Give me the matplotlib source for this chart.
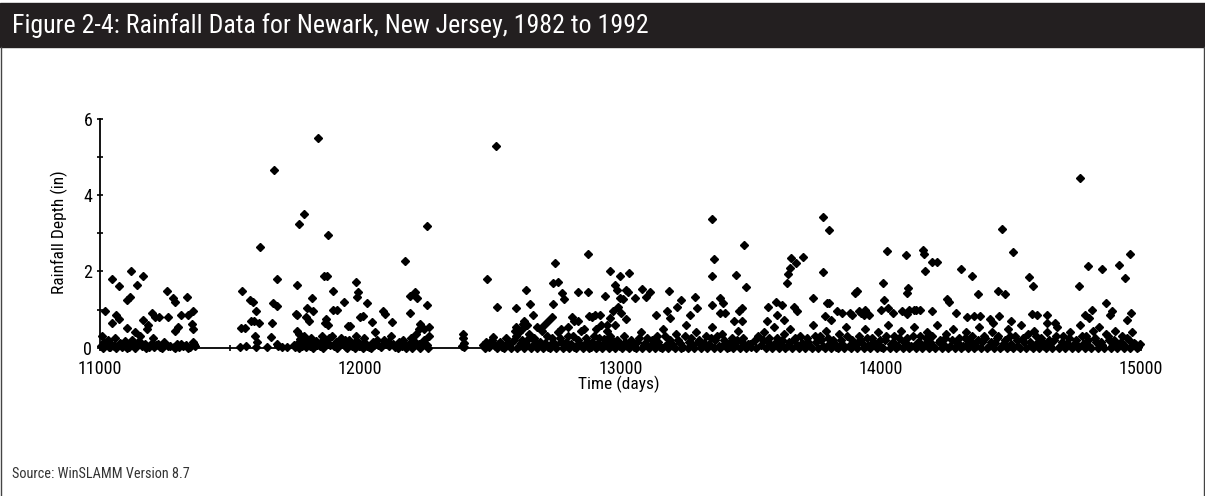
#!/usr/bin/env python3
"""
Figure 2-4 -- Rainfall data for Newark, New Jersey, 1982 to 1992.

Scatter of daily rainfall depth (in) against time (days), as exported
from WinSLAMM. Values below were read off the published figure.
"""

import matplotlib
matplotlib.use("Agg")
import matplotlib.pyplot as plt
from matplotlib import font_manager
from matplotlib.lines import Line2D
from matplotlib.patches import Rectangle
from matplotlib.ticker import MultipleLocator

# --- larger storms, (day, depth in) ---
storms_a = [
    (11019, 0.97), (11045, 1.80), (11074, 1.63), (11045, 0.66), (11060, 0.85),
    (11074, 0.75), (11102, 0.52), (11118, 2.02), (11104, 1.25), (11115, 1.34),
    (11141, 1.65), (11166, 1.89), (11135, 0.40), (11166, 0.73), (11180, 0.50),
    (11185, 0.60), (11198, 0.90), (11210, 0.80), (11225, 0.80), (11205, 0.25),
    (11256, 1.50), (11262, 0.80), (11279, 1.30), (11288, 1.21), (11290, 0.45),
    (11300, 0.55), (11310, 0.85), (11333, 1.34), (11340, 0.85), (11358, 0.95),
    (11352, 0.62), (11358, 0.48),
]
storms_b = [
    (11538, 0.03), (11542, 0.51), (11557, 0.51), (11545, 1.50), (11576, 1.25),
    (11589, 1.21), (11580, 0.70), (11590, 0.70), (11598, 0.95), (11595, 0.30),
    (11598, 0.02), (11615, 2.65), (11612, 0.65), (11657, 0.29), (11660, 0.65),
    (11666, 1.17), (11670, 4.66), (11679, 1.80), (11681, 1.10), (11681, 0.10),
    (11750, 0.02), (11756, 1.65), (11766, 3.24), (11782, 3.50), (11756, 0.85),
    (11756, 0.45), (11766, 0.35), (11790, 0.80), (11794, 1.03), (11813, 1.30),
    (11803, 0.70), (11820, 0.95), (11839, 5.51), (11861, 1.89), (11874, 1.89),
    (11877, 2.96), (11897, 1.48), (11897, 1.00), (11910, 0.98), (11870, 0.75),
    (11865, 0.64), (11877, 0.60), (11753, 0.88),
]
storms_c = [
    (11938, 1.21), (11952, 0.56), (11960, 0.56), (11984, 1.73), (11993, 1.47),
    (11989, 1.34), (11999, 0.81), (12012, 0.83), (12027, 1.17), (12044, 0.67),
    (12088, 0.95), (12095, 0.88), (12121, 0.68), (12172, 2.28), (12191, 1.36),
    (12210, 1.47), (12217, 1.30), (12191, 0.90), (12258, 3.19), (12258, 1.12),
    (12230, 0.63), (12225, 0.50), (12245, 0.50), (12265, 0.55),
    (12396, 0.37), (12396, 0.25), (12398, 0.12), (12400, 0.03), (12392, 0.05),
]
storms_d = [
    (12486, 1.80), (12520, 5.29), (12524, 1.08), (12511, 0.29), (12597, 1.03),
    (12637, 1.51), (12652, 1.14), (12665, 0.86), (12630, 0.70), (12625, 0.62),
    (12640, 0.60), (12600, 0.55), (12595, 0.45), (12610, 0.40), (12749, 2.23),
    (12742, 1.71), (12759, 1.73), (12775, 1.44), (12781, 1.27), (12742, 1.14),
    (12735, 0.80), (12721, 0.70), (12707, 0.60), (12874, 2.46), (12838, 1.47),
    (12874, 1.47), (12815, 0.80), (12820, 0.70), (12835, 0.70), (12880, 0.83),
    (12890, 0.81), (12942, 1.36), (12958, 2.01), (12998, 1.89), (12979, 1.65),
    (12985, 1.51), (12992, 1.08), (12997, 1.30), (12970, 0.95), (12960, 0.78),
    (12980, 0.60), (12902, 0.86), (12922, 0.86), (12950, 0.60), (12950, 0.45),
    (12620, 0.50), (12680, 0.55), (12770, 0.50), (12800, 0.55), (12860, 0.50),
    (12905, 0.50), (12925, 0.60),
]
storms_e = [
    (13033, 1.96), (13011, 1.28), (13028, 1.47), (13021, 1.51), (13003, 0.90),
    (13020, 0.75), (13056, 1.31), (13082, 1.54), (13098, 1.34), (13114, 1.47),
    (13188, 1.50), (13137, 0.86), (13178, 0.95), (13191, 0.77), (13216, 1.08),
    (13233, 1.25), (13287, 1.34), (13293, 1.03), (13267, 0.86), (13352, 3.37),
    (13361, 2.32), (13352, 1.88), (13352, 1.12), (13383, 1.30), (13395, 1.17),
    (13383, 0.90), (13403, 0.90), (13444, 1.91), (13476, 2.70), (13482, 1.60),
    (13466, 1.03), (13457, 0.95), (13466, 0.70), (13436, 0.70), (13568, 1.08),
    (13598, 1.21), (13620, 1.12), (13603, 0.85), (13628, 0.72), (13562, 0.70),
    (13639, 1.71), (13645, 1.93), (13651, 2.08), (13654, 2.35), (13675, 2.21),
    (13700, 2.37), (13667, 1.08), (13680, 0.95),
]
storms_f = [
    (13777, 3.42), (13803, 3.09), (13777, 1.98), (13738, 1.31), (13792, 1.18),
    (13802, 1.18), (13830, 0.95), (13902, 1.44), (13910, 1.50), (13882, 0.90),
    (13787, 0.83), (13810, 0.72), (13850, 0.92), (13890, 0.87), (14007, 1.71),
    (14023, 2.55), (14097, 2.43), (14106, 1.57), (14100, 1.43), (14014, 1.25),
    (13917, 0.95), (13940, 1.00), (13955, 0.85), (14001, 1.00), (14027, 1.05),
    (14100, 0.88), (14164, 2.56), (14168, 2.45), (14196, 2.24), (14215, 2.24),
    (14170, 2.01), (14254, 1.27), (14262, 1.21), (14196, 0.95), (14290, 0.90),
    (14330, 0.80), (14047, 0.90), (14080, 0.95), (14127, 1.00), (14150, 1.00),
    (14110, 1.00), (14135, 1.00), (13925, 0.90), (13935, 0.85), (14307, 2.06),
    (14350, 1.88),
]
storms_g = [
    (14373, 1.40), (14465, 3.11), (14510, 2.52), (14450, 1.49), (14478, 1.40),
    (14569, 1.85), (14584, 1.63), (14766, 4.45), (14760, 1.63), (14798, 2.15),
    (14849, 2.07), (14916, 2.17), (14937, 1.84), (14956, 2.46), (14962, 0.90),
    (14865, 1.18), (14810, 1.00), (14890, 0.95), (14879, 0.86), (14360, 0.83),
    (14383, 0.83), (14455, 0.83), (14580, 0.88), (14600, 0.85), (14638, 0.85),
    (14785, 0.85), (14800, 0.78), (14945, 0.73), (14640, 0.65), (14670, 0.65),
    (14420, 0.75), (14430, 0.65), (14500, 0.70),
]

# --- small events hugging the axis, (day, depth in) ---
small_a = [
    (11003, 0.05), (11008, 0.30), (11015, 0.15), (11022, 0.08), (11030, 0.20),
    (11036, 0.03), (11044, 0.10), (11052, 0.05), (11058, 0.25), (11066, 0.04),
    (11075, 0.12), (11083, 0.02), (11090, 0.06), (11097, 0.18), (11110, 0.03),
    (11122, 0.20), (11128, 0.07), (11137, 0.04), (11146, 0.15), (11152, 0.30),
    (11160, 0.05), (11172, 0.10), (11190, 0.03), (11200, 0.12), (11215, 0.06),
    (11232, 0.02), (11245, 0.15), (11268, 0.04), (11283, 0.03), (11296, 0.10),
    (11305, 0.02), (11318, 0.05), (11330, 0.08), (11345, 0.03), (11356, 0.15),
    (11365, 0.05),
    (11012, 0.00), (11027, 0.10), (11040, 0.02), (11062, 0.00), (11079, 0.08),
    (11105, 0.00), (11118, 0.10), (11133, 0.00), (11157, 0.12), (11178, 0.00),
    (11208, 0.02), (11222, 0.10), (11240, 0.00), (11260, 0.05), (11290, 0.00),
    (11312, 0.10), (11338, 0.00), (11362, 0.10),
]
small_b = [
    (11560, 0.05), (11605, 0.15), (11640, 0.03), (11685, 0.05), (11700, 0.02),
    (11720, 0.03), (11745, 0.08), (11760, 0.12), (11770, 0.22), (11778, 0.05),
    (11785, 0.30), (11795, 0.15), (11805, 0.04), (11812, 0.25), (11822, 0.10),
    (11830, 0.18), (11845, 0.05), (11852, 0.32), (11860, 0.12), (11868, 0.20),
    (11885, 0.08), (11892, 0.30), (11905, 0.15), (11915, 0.05), (11925, 0.25),
    (11765, 0.00), (11775, 0.10), (11790, 0.02), (11800, 0.12), (11818, 0.00),
    (11835, 0.08), (11848, 0.15), (11857, 0.00), (11875, 0.10), (11880, 0.25),
    (11898, 0.05), (11910, 0.00), (11920, 0.12),
]
small_c = [
    (11935, 0.10), (11945, 0.03), (11955, 0.20), (11968, 0.05), (11975, 0.12),
    (11985, 0.30), (11995, 0.04), (12005, 0.10), (12015, 0.25), (12025, 0.05),
    (12035, 0.02), (12048, 0.15), (12058, 0.40), (12070, 0.06), (12080, 0.03),
    (12092, 0.20), (12100, 0.10), (12110, 0.05), (12120, 0.30), (12132, 0.02),
    (12140, 0.08), (12150, 0.15), (12160, 0.04), (12170, 0.12), (12180, 0.05),
    (12195, 0.25), (12205, 0.08), (12215, 0.35), (12225, 0.10), (12235, 0.05),
    (12245, 0.20), (12255, 0.08), (12265, 0.30),
    (11940, 0.20), (11950, 0.00), (11962, 0.10), (11980, 0.00), (11990, 0.15),
    (12010, 0.00), (12020, 0.12), (12042, 0.00), (12054, 0.08), (12065, 0.20),
    (12086, 0.10), (12105, 0.15), (12125, 0.10), (12145, 0.00), (12165, 0.20),
    (12175, 0.00), (12188, 0.10), (12200, 0.00), (12210, 0.15), (12230, 0.00),
    (12240, 0.10), (12260, 0.00),
]
small_d = [
    (12472, 0.08), (12485, 0.15), (12495, 0.03), (12505, 0.20), (12518, 0.05),
    (12530, 0.10), (12545, 0.02), (12560, 0.25), (12572, 0.06), (12585, 0.15),
    (12598, 0.30), (12610, 0.05), (12622, 0.20), (12635, 0.10), (12648, 0.35),
    (12660, 0.04), (12672, 0.18), (12685, 0.08), (12698, 0.45), (12710, 0.12),
    (12722, 0.03), (12735, 0.25), (12748, 0.08), (12760, 0.40), (12772, 0.15),
    (12785, 0.05), (12798, 0.30), (12810, 0.10), (12822, 0.02), (12835, 0.20),
    (12848, 0.45), (12860, 0.08), (12872, 0.15), (12885, 0.03), (12898, 0.30),
    (12910, 0.10), (12922, 0.05), (12935, 0.22), (12948, 0.12), (12960, 0.30),
    (12972, 0.04), (12985, 0.20),
    (12478, 0.00), (12500, 0.10), (12525, 0.00), (12538, 0.15), (12552, 0.00),
    (12566, 0.12), (12580, 0.00), (12592, 0.20), (12604, 0.00), (12616, 0.12),
    (12628, 0.00), (12642, 0.20), (12655, 0.00), (12666, 0.25), (12678, 0.00),
    (12692, 0.15), (12704, 0.00), (12716, 0.30), (12728, 0.00), (12742, 0.15),
    (12754, 0.00), (12766, 0.25), (12778, 0.00), (12792, 0.15), (12804, 0.00),
    (12816, 0.30), (12828, 0.00), (12842, 0.12), (12854, 0.00), (12866, 0.25),
    (12878, 0.00), (12892, 0.15), (12904, 0.00), (12916, 0.25), (12928, 0.00),
    (12942, 0.15), (12954, 0.00), (12966, 0.20), (12978, 0.00), (12992, 0.12),
]
small_e = [
    (13000, 0.10), (13012, 0.30), (13025, 0.05), (13040, 0.20), (13052, 0.03),
    (13065, 0.15), (13078, 0.40), (13090, 0.08), (13102, 0.25), (13115, 0.05),
    (13128, 0.12), (13140, 0.30), (13152, 0.03), (13165, 0.50), (13178, 0.10),
    (13190, 0.20), (13202, 0.05), (13215, 0.35), (13228, 0.12), (13240, 0.03),
    (13252, 0.60), (13265, 0.15), (13278, 0.08), (13290, 0.40), (13302, 0.20),
    (13315, 0.05), (13328, 0.30), (13340, 0.10), (13352, 0.55), (13365, 0.20),
    (13378, 0.05), (13390, 0.35), (13402, 0.12), (13415, 0.03), (13428, 0.25),
    (13440, 0.08), (13452, 0.45), (13465, 0.15), (13478, 0.05), (13490, 0.10),
    (13502, 0.02), (13515, 0.20), (13528, 0.30), (13540, 0.08), (13552, 0.40),
    (13565, 0.15), (13578, 0.05), (13590, 0.55), (13602, 0.25), (13615, 0.10),
    (13628, 0.35), (13640, 0.05), (13652, 0.50), (13665, 0.20), (13678, 0.08),
    (13690, 0.30),
    (13006, 0.00), (13018, 0.15), (13032, 0.00), (13046, 0.10), (13058, 0.00),
    (13072, 0.25), (13084, 0.00), (13096, 0.12), (13108, 0.00), (13122, 0.20),
    (13134, 0.00), (13146, 0.15), (13158, 0.00), (13172, 0.30), (13184, 0.00),
    (13196, 0.10), (13208, 0.00), (13222, 0.20), (13234, 0.00), (13246, 0.30),
    (13258, 0.00), (13272, 0.25), (13284, 0.00), (13296, 0.15), (13308, 0.00),
    (13322, 0.12), (13334, 0.00), (13346, 0.25), (13358, 0.00), (13372, 0.30),
    (13384, 0.00), (13396, 0.20), (13408, 0.00), (13422, 0.12), (13434, 0.00),
    (13446, 0.20), (13458, 0.00), (13472, 0.25), (13484, 0.00), (13496, 0.10),
    (13520, 0.00), (13546, 0.20), (13558, 0.00), (13572, 0.25), (13584, 0.00),
    (13596, 0.15), (13608, 0.00), (13622, 0.20), (13634, 0.00), (13646, 0.15),
    (13658, 0.00), (13672, 0.25), (13684, 0.00), (13696, 0.12),
]
small_f = [
    (13702, 0.10), (13715, 0.25), (13728, 0.05), (13740, 0.60), (13752, 0.15),
    (13765, 0.30), (13778, 0.05), (13790, 0.45), (13802, 0.10), (13815, 0.20),
    (13828, 0.03), (13840, 0.35), (13852, 0.10), (13865, 0.55), (13878, 0.05),
    (13890, 0.20), (13902, 0.08), (13915, 0.30), (13928, 0.12), (13940, 0.50),
    (13952, 0.05), (13965, 0.25), (13978, 0.10), (13990, 0.40), (14002, 0.03),
    (14015, 0.20), (14028, 0.60), (14040, 0.10), (14052, 0.30), (14065, 0.05),
    (14078, 0.45), (14090, 0.15), (14102, 0.25), (14115, 0.05), (14128, 0.55),
    (14140, 0.12), (14152, 0.30), (14165, 0.08), (14178, 0.40), (14190, 0.15),
    (14202, 0.05), (14215, 0.60), (14228, 0.20), (14240, 0.10), (14252, 0.35),
    (14265, 0.05), (14278, 0.50), (14290, 0.15), (14302, 0.25), (14315, 0.05),
    (14328, 0.40), (14340, 0.12),
    (13708, 0.00), (13722, 0.15), (13734, 0.00), (13746, 0.30), (13758, 0.00),
    (13772, 0.20), (13784, 0.00), (13796, 0.25), (13808, 0.00), (13822, 0.12),
    (13834, 0.00), (13846, 0.20), (13858, 0.00), (13872, 0.30), (13884, 0.00),
    (13896, 0.12), (13908, 0.00), (13922, 0.20), (13934, 0.00), (13946, 0.25),
    (13958, 0.00), (13972, 0.15), (13984, 0.00), (13996, 0.20), (14008, 0.00),
    (14022, 0.30), (14034, 0.00), (14046, 0.15), (14058, 0.00), (14072, 0.25),
    (14084, 0.00), (14096, 0.12), (14108, 0.00), (14122, 0.30), (14134, 0.00),
    (14146, 0.15), (14158, 0.00), (14172, 0.25), (14184, 0.00), (14196, 0.30),
    (14208, 0.00), (14222, 0.15), (14234, 0.00), (14246, 0.25), (14258, 0.00),
    (14272, 0.20), (14284, 0.00), (14296, 0.12), (14308, 0.00), (14322, 0.25),
    (14334, 0.00), (14346, 0.15),
]
small_g = [
    (14352, 0.30), (14365, 0.05), (14378, 0.55), (14390, 0.15), (14402, 0.25),
    (14415, 0.05), (14428, 0.40), (14440, 0.12), (14452, 0.30), (14465, 0.05),
    (14478, 0.20), (14490, 0.50), (14502, 0.10), (14515, 0.30), (14528, 0.05),
    (14540, 0.60), (14552, 0.15), (14565, 0.35), (14578, 0.05), (14590, 0.45),
    (14602, 0.12), (14615, 0.25), (14628, 0.05), (14640, 0.40), (14652, 0.10),
    (14665, 0.20), (14678, 0.55), (14690, 0.05), (14702, 0.30), (14715, 0.12),
    (14728, 0.40), (14740, 0.05), (14752, 0.20), (14765, 0.60), (14778, 0.10),
    (14790, 0.30), (14802, 0.05), (14815, 0.45), (14828, 0.15), (14840, 0.55),
    (14852, 0.08), (14865, 0.35), (14878, 0.20), (14890, 0.05), (14902, 0.45),
    (14915, 0.10), (14928, 0.30), (14940, 0.05), (14952, 0.20), (14965, 0.40),
    (14978, 0.10), (14988, 0.03),
    (14358, 0.00), (14372, 0.20), (14384, 0.00), (14396, 0.30), (14408, 0.00),
    (14422, 0.15), (14434, 0.00), (14446, 0.25), (14458, 0.00), (14472, 0.12),
    (14484, 0.00), (14496, 0.30), (14508, 0.00), (14522, 0.20), (14534, 0.00),
    (14546, 0.25), (14558, 0.00), (14572, 0.15), (14584, 0.00), (14596, 0.30),
    (14608, 0.00), (14622, 0.12), (14634, 0.00), (14646, 0.20), (14658, 0.00),
    (14672, 0.30), (14684, 0.00), (14696, 0.15), (14708, 0.00), (14722, 0.25),
    (14734, 0.00), (14746, 0.12), (14758, 0.00), (14772, 0.30), (14784, 0.00),
    (14796, 0.20), (14808, 0.00), (14822, 0.25), (14834, 0.00), (14846, 0.15),
    (14858, 0.00), (14872, 0.30), (14884, 0.00), (14896, 0.20), (14908, 0.00),
    (14922, 0.15), (14934, 0.00), (14946, 0.25), (14958, 0.00), (14972, 0.12),
    (14984, 0.00), (14995, 0.10),
]

TITLE = "Figure 2-4: Rainfall Data for Newark, New Jersey, 1982 to 1992"
SOURCE = "Source: WinSLAMM Version 8.7"

W, H = 1205, 496

# pick a narrow face if one is around, else Liberation Sans (Arial metrics)
_installed = {f.name for f in font_manager.fontManager.ttflist}
NARROW = [f for f in ("Roboto Condensed", "Liberation Sans Narrow", "Open Sans Condensed",
                      "Liberation Sans") if f in _installed] + ["DejaVu Sans"]
HAS_NARROW = NARROW[0] != "Liberation Sans"


def main():
    fig = plt.figure(figsize=(W / 100, H / 100), dpi=100)

    # dark title bar + frame
    fig.patches.append(Rectangle((0, 1 - 47 / H), 1, 44 / H,
                                 transform=fig.transFigure, color="#231f20"))
    for xf in (0.6 / W, 1 - 0.6 / W):
        fig.lines.append(Line2D([xf, xf], [0, 1 - 47 / H], transform=fig.transFigure,
                                color="#444444", linewidth=1.0))
    fig.text(12 / W, 1 - 26 / H, TITLE, color="white",
             fontsize=18.6 if HAS_NARROW else 14.5,
             family=NARROW, va="center", ha="left")
    fig.text(12 / W, 1 - 474 / H, SOURCE, color="#333333",
             fontsize=10.3 if HAS_NARROW else 9,
             family=NARROW, va="center", ha="left")

    ax = fig.add_axes([100 / W, 148.3 / H, 1041 / W, 228.7 / H])

    groups = [storms_a, storms_b, storms_c, storms_d, storms_e, storms_f, storms_g,
              small_a, small_b, small_c, small_d, small_e, small_f, small_g]
    for g in groups:
        days = [d for d, _ in g]
        depth = [v for _, v in g]
        ax.plot(days, depth, linestyle="none", marker="D", markersize=4.5,
                color="black", clip_on=False, zorder=3)

    ax.set_xlim(11000, 15000)
    ax.set_ylim(0, 6)
    ax.xaxis.set_major_locator(MultipleLocator(1000))
    ax.xaxis.set_minor_locator(MultipleLocator(500))
    ax.yaxis.set_major_locator(MultipleLocator(2))
    ax.yaxis.set_minor_locator(MultipleLocator(1))

    for side in ("top", "right"):
        ax.spines[side].set_visible(False)
    for side in ("left", "bottom"):
        ax.spines[side].set_linewidth(1.3)
        ax.spines[side].set_color("black")

    tick_size = 13 if HAS_NARROW else 11
    lab_size = 12.5 if HAS_NARROW else 11
    ax.tick_params(which="both", direction="inout", length=5, width=1.2, color="black")
    ax.tick_params(axis="y", pad=3)
    ax.tick_params(axis="x", pad=6)
    for lab in ax.get_xticklabels() + ax.get_yticklabels():
        lab.set_fontfamily(NARROW)
        lab.set_fontsize(tick_size)

    ax.set_xlabel("Time (days)", family=NARROW, fontsize=lab_size)
    ax.set_ylabel("Rainfall Depth (in)", family=NARROW, fontsize=lab_size)
    ax.xaxis.set_label_coords(0.4986, -0.162)
    ax.xaxis.label.set_va("center")
    ax.yaxis.set_label_coords(-0.031, 0.506)

    plt.savefig("out.png", dpi=100)


if __name__ == "__main__":
    main()
